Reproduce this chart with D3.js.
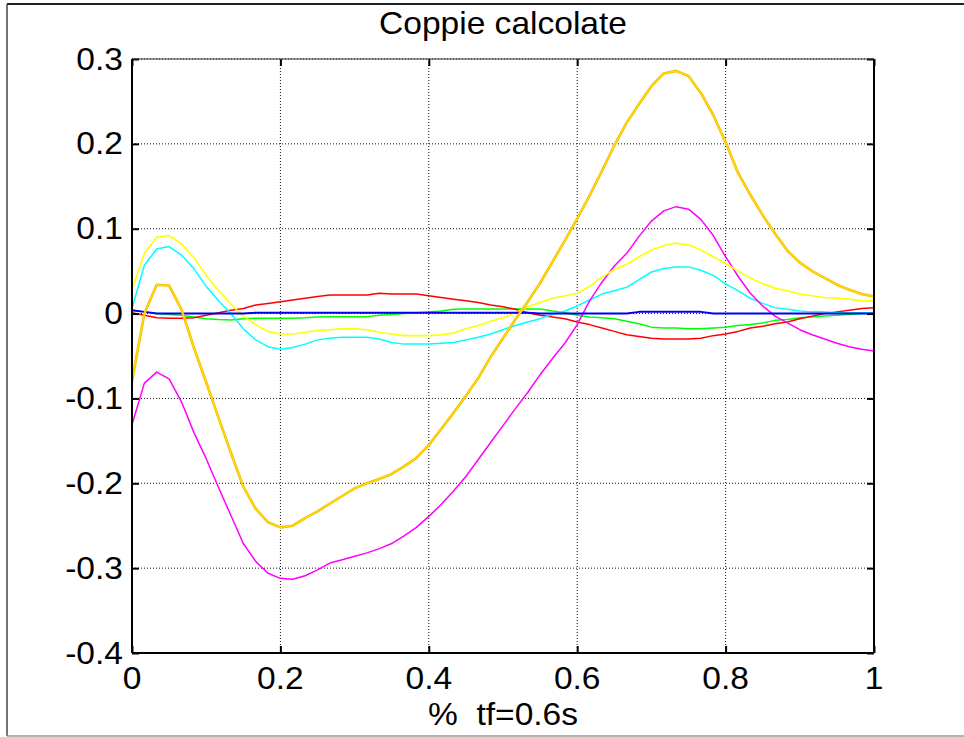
<!DOCTYPE html>
<html>
<head>
<meta charset="utf-8">
<script src="https://cdn.jsdelivr.net/npm/d3@7/dist/d3.min.js"></script>
<style>
  html, body { margin: 0; padding: 0; background: #fff; }
  svg { display: block; }
  text { font-family: "Liberation Sans", Arial, Helvetica, sans-serif; fill: #000; white-space: pre; }
</style>
</head>
<body>
<script>
// Normalised time samples (fraction of tf), 61 points
const nSteps = 60;
const tSamples = d3.range(nSteps + 1).map(i => i / nSteps);

// Computed torques for each joint
const torqueBlue = [
  0.004, 0.002, 0.000, 0.000, 0.000, 0.000, 0.000, 0.000, 0.000, 0.000,
  0.001, 0.001, 0.001, 0.001, 0.001, 0.001, 0.001, 0.001, 0.001, 0.001,
  0.001, 0.001, 0.001, 0.001, 0.001, 0.001, 0.001, 0.001, 0.001, 0.001,
  0.001, 0.001, 0.001, 0.000, 0.000, 0.000, 0.000, 0.000, 0.000, 0.000,
  0.000, 0.002, 0.002, 0.002, 0.002, 0.002, 0.002, 0.000, 0.000, 0.000,
  0.000, 0.000, 0.000, 0.000, 0.000, 0.000, 0.000, 0.000, 0.000, 0.000,
  0.000
];
const torqueGreen = [
  0.004, 0.002, 0.000, -0.001, -0.002, -0.004, -0.006, -0.007, -0.0075, -0.006,
  -0.0055, -0.0055, -0.0055, -0.0055, -0.005, -0.004, -0.0036, -0.0036, -0.0036, -0.0036,
  -0.002, -0.001, 0.000, 0.001, 0.002, 0.003, 0.005, 0.0055, 0.0055, 0.0055,
  0.0055, 0.0055, 0.0055, 0.0055, 0.003, 0.001, -0.002, -0.004, -0.005, -0.006,
  -0.009, -0.012, -0.016, -0.017, -0.017, -0.018, -0.018, -0.017, -0.016, -0.014,
  -0.013, -0.011, -0.008, -0.007, -0.005, -0.004, -0.003, -0.002, -0.001, 0.000,
  0.000
];
const torqueRed = [
  0.001, -0.002, -0.005, -0.0055, -0.0055, -0.005, -0.002, 0.001, 0.004, 0.006,
  0.010, 0.012, 0.014, 0.016, 0.018, 0.020, 0.022, 0.022, 0.022, 0.022,
  0.024, 0.023, 0.023, 0.023, 0.021, 0.019, 0.017, 0.015, 0.013, 0.010,
  0.008, 0.005, 0.001, -0.002, -0.004, -0.006, -0.010, -0.013, -0.017, -0.021,
  -0.025, -0.027, -0.029, -0.030, -0.030, -0.030, -0.029, -0.026, -0.024, -0.021,
  -0.017, -0.015, -0.012, -0.010, -0.006, -0.003, 0.000, 0.002, 0.004, 0.006,
  0.007
];
const torqueCyan = [
  0.006, 0.057, 0.076, 0.079, 0.069, 0.053, 0.032, 0.015, 0.000, -0.018,
  -0.031, -0.039, -0.042, -0.040, -0.036, -0.031, -0.029, -0.028, -0.028, -0.028,
  -0.030, -0.034, -0.036, -0.036, -0.036, -0.035, -0.034, -0.031, -0.028, -0.024,
  -0.019, -0.014, -0.010, -0.006, -0.001, 0.003, 0.009, 0.016, 0.023, 0.027,
  0.031, 0.040, 0.049, 0.053, 0.055, 0.055, 0.051, 0.045, 0.035, 0.027,
  0.018, 0.012, 0.007, 0.005, 0.003, 0.002, 0.002, 0.001, 0.001, 0.001,
  0.001
];
const torqueMagenta = [
  -0.131, -0.082, -0.069, -0.077, -0.104, -0.140, -0.171, -0.205, -0.238, -0.271,
  -0.292, -0.306, -0.312, -0.313, -0.309, -0.302, -0.294, -0.290, -0.286, -0.282,
  -0.277, -0.271, -0.262, -0.252, -0.239, -0.225, -0.209, -0.192, -0.172, -0.152,
  -0.132, -0.112, -0.093, -0.072, -0.053, -0.035, -0.013, 0.015, 0.037, 0.056,
  0.071, 0.091, 0.109, 0.121, 0.126, 0.123, 0.111, 0.092, 0.067, 0.044,
  0.024, 0.009, -0.003, -0.011, -0.019, -0.025, -0.030, -0.035, -0.039, -0.042,
  -0.044
];
const torqueYellow = [
  0.028, 0.071, 0.090, 0.092, 0.082, 0.066, 0.045, 0.027, 0.011, -0.003,
  -0.013, -0.021, -0.024, -0.024, -0.022, -0.020, -0.019, -0.018, -0.018, -0.019,
  -0.022, -0.024, -0.026, -0.026, -0.026, -0.025, -0.023, -0.018, -0.014, -0.009,
  -0.005, 0.001, 0.008, 0.013, 0.018, 0.021, 0.024, 0.032, 0.043, 0.052,
  0.058, 0.067, 0.075, 0.080, 0.083, 0.081, 0.075, 0.067, 0.059, 0.050,
  0.042, 0.035, 0.030, 0.027, 0.023, 0.021, 0.019, 0.018, 0.017, 0.015,
  0.015
];
const torqueGold = [
  -0.080, 0.000, 0.034, 0.033, 0.005, -0.040, -0.081, -0.123, -0.164, -0.204,
  -0.230, -0.246, -0.252, -0.250, -0.241, -0.233, -0.224, -0.215, -0.206, -0.200,
  -0.195, -0.189, -0.180, -0.170, -0.155, -0.136, -0.117, -0.097, -0.076, -0.051,
  -0.029, -0.007, 0.014, 0.036, 0.061, 0.086, 0.112, 0.139, 0.168, 0.198,
  0.225, 0.247, 0.268, 0.283, 0.286, 0.280, 0.260, 0.234, 0.202, 0.166,
  0.140, 0.116, 0.094, 0.074, 0.060, 0.050, 0.042, 0.034, 0.028, 0.023,
  0.020
];

// Axis ticks and texts
const xTicks = [0, 0.2, 0.4, 0.6, 0.8, 1];
const xTickLabels = ["0", "0.2", "0.4", "0.6", "0.8", "1"];
const yTicks = [0.3, 0.2, 0.1, 0, -0.1, -0.2, -0.3, -0.4];
const yTickLabels = ["0.3", "0.2", "0.1", "0", "-0.1", "-0.2", "-0.3", "-0.4"];
const titleText = "Coppie calcolate";
const xLabelText = "%  tf=0.6s";

const W = 964, H = 737;
const plot = { left: 132, right: 874, top: 59, bottom: 653 };
const fontSize = 30.5;
const stretch = 1.1;

const svg = d3.select("body").append("svg")
  .attr("width", W).attr("height", H);

// Figure frame
svg.append("line").attr("x1", 7).attr("x2", W).attr("y1", 4).attr("y2", 4)
  .attr("stroke", "#222").attr("stroke-width", 2);
svg.append("line").attr("x1", 7).attr("x2", 7).attr("y1", 4).attr("y2", 736)
  .attr("stroke", "#444").attr("stroke-width", 1.5);
svg.append("line").attr("x1", 7).attr("x2", W).attr("y1", 736).attr("y2", 736)
  .attr("stroke", "#999").attr("stroke-width", 1.5);

const x = d3.scaleLinear().domain([0, 1]).range([plot.left, plot.right]);
const y = d3.scaleLinear().domain([-0.4, 0.3]).range([plot.bottom, plot.top]);

// Dotted grid
const grid = svg.append("g");
grid.selectAll("line.gx").data(xTicks.slice(1, -1)).join("line")
  .attr("x1", d => x(d)).attr("x2", d => x(d))
  .attr("y1", plot.top).attr("y2", plot.bottom)
  .attr("stroke", "#111").attr("stroke-width", 1).attr("stroke-dasharray", "1,2");
grid.selectAll("line.gy").data(yTicks.slice(0, -1)).join("line")
  .attr("x1", plot.left).attr("x2", plot.right)
  .attr("y1", d => y(d)).attr("y2", d => y(d))
  .attr("stroke", "#111").attr("stroke-width", 1).attr("stroke-dasharray", "1,2");

// Series curves
const line = d3.line().x((d, i) => x(tSamples[i])).y(d => y(d));
const series = [
  { values: torqueGreen, color: "#00ff00", width: 1.5 },
  { values: torqueRed, color: "#ff0000", width: 1.5 },
  { values: torqueCyan, color: "#00ffff", width: 1.5 },
  { values: torqueMagenta, color: "#ff00ff", width: 1.5 },
  { values: torqueYellow, color: "#ffff00", width: 1.6 },
  { values: torqueBlue, color: "#0000ee", width: 2 },
  { values: torqueGold, color: "#f2b400", width: 2.6 },
  { values: torqueGold, color: "#ffe000", width: 1.3 }
];
const plotArea = svg.append("g");
series.forEach(s => {
  plotArea.append("path")
    .datum(s.values)
    .attr("d", line)
    .attr("fill", "none")
    .attr("stroke", s.color)
    .attr("stroke-width", s.width)
    .attr("stroke-linejoin", "round");
});

// Axes box with inward ticks
const axes = svg.append("g");
const tickLen = 7;
axes.append("g").attr("transform", `translate(0,${plot.bottom})`)
  .call(d3.axisBottom(x).tickValues(xTicks).tickSize(-tickLen).tickFormat(""));
axes.append("g").attr("transform", `translate(0,${plot.top})`)
  .call(d3.axisTop(x).tickValues(xTicks).tickSize(-tickLen).tickFormat(""));
axes.append("g").attr("transform", `translate(${plot.left},0)`)
  .call(d3.axisLeft(y).tickValues(yTicks).tickSize(-tickLen).tickFormat(""));
axes.append("g").attr("transform", `translate(${plot.right},0)`)
  .call(d3.axisRight(y).tickValues(yTicks).tickSize(-tickLen).tickFormat(""));
axes.selectAll(".domain").remove();
axes.selectAll(".tick line").attr("stroke", "#000").attr("stroke-width", 2);

svg.append("line").attr("x1", plot.left).attr("x2", plot.right)
  .attr("y1", plot.bottom).attr("y2", plot.bottom).attr("stroke", "#000").attr("stroke-width", 2);
svg.append("line").attr("x1", plot.left).attr("x2", plot.left)
  .attr("y1", plot.top).attr("y2", plot.bottom).attr("stroke", "#000").attr("stroke-width", 2);
svg.append("line").attr("x1", plot.right).attr("x2", plot.right)
  .attr("y1", plot.top).attr("y2", plot.bottom).attr("stroke", "#000").attr("stroke-width", 2);
svg.append("line").attr("x1", plot.left).attr("x2", plot.right)
  .attr("y1", plot.top).attr("y2", plot.top).attr("stroke", "#333").attr("stroke-width", 1.2);

// Texts (slightly wide glyphs)
function label(g, px, py, txt, anchor) {
  g.append("text")
    .attr("transform", `translate(${px},${py}) scale(${stretch},1)`)
    .attr("text-anchor", anchor)
    .attr("font-size", fontSize)
    .attr("xml:space", "preserve")
    .text(txt);
}
const texts = svg.append("g");
xTicks.forEach((d, i) => label(texts, x(d), plot.bottom + 36, xTickLabels[i], "middle"));
yTicks.forEach((d, i) => label(texts, plot.left - 9, y(d) + 10.5, yTickLabels[i], "end"));
label(texts, (plot.left + plot.right) / 2, 34, titleText, "middle");
label(texts, (plot.left + plot.right) / 2, 725, xLabelText, "middle");
</script>
</body>
</html>
